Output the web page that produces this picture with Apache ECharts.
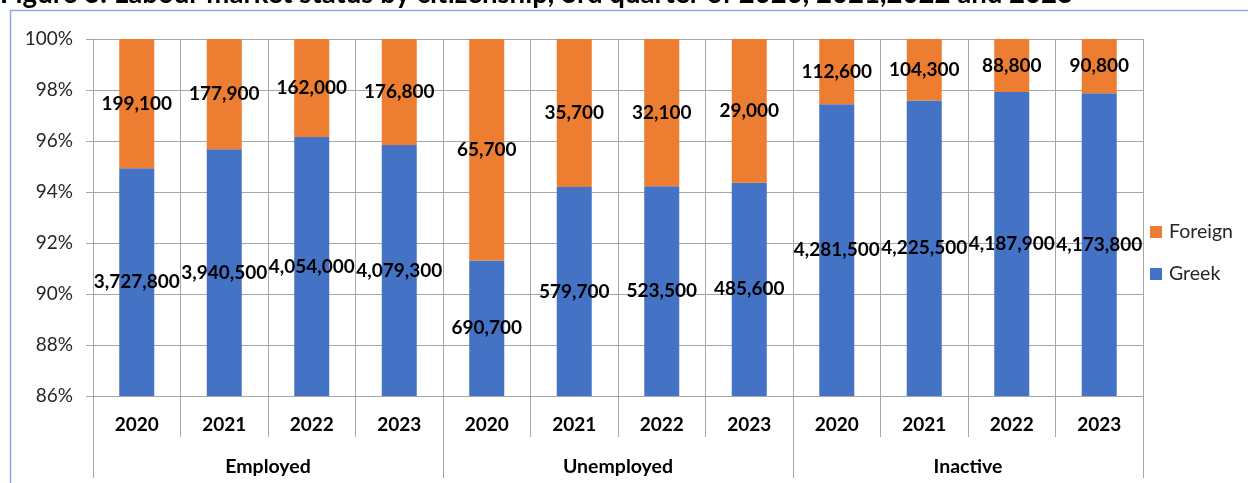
<!DOCTYPE html>
<html>
<head>
<meta charset="utf-8">
<script src="https://cdn.jsdelivr.net/npm/echarts@6/dist/echarts.min.js"></script>
<style>
  html, body { margin: 0; padding: 0; background: #fff; }
  #chart { width: 1248px; height: 483px; }
</style>
</head>
<body>
<div id="chart"></div>
<script>
// Labour market status by citizenship (Q3 figures, persons)
const groups = ['Employed', 'Unemployed', 'Inactive'];
const years = ['2020', '2021', '2022', '2023'];
const categories = ['2020', '2021', '2022', '2023', '2020', '2021', '2022', '2023', '2020', '2021', '2022', '2023'];
const greek = [3727800, 3940500, 4054000, 4079300, 690700, 579700, 523500, 485600, 4281500, 4225500, 4187900, 4173800];
const foreign = [199100, 177900, 162000, 176800, 65700, 35700, 32100, 29000, 112600, 104300, 88800, 90800];
const yTicks = { min: 86, max: 100, step: 2 };

const FONT = 'Lato';
const GRID_COLOR = '#A6A6A6';

// Each bar is the share of its column total, labelled with the head count
const share = (part, i) => part[i] / (greek[i] + foreign[i]) * 100;
const greekShare = greek.map((v, i) => ({ value: share(greek, i), raw: v }));
const foreignShare = foreign.map((v, i) => ({ value: share(foreign, i), raw: v }));
const fmt = (n) => n.toLocaleString('en-US');

const barLabel = {
  show: true,
  position: 'inside',
  color: '#000',
  fontFamily: FONT,
  fontWeight: 'bold',
  fontSize: 19,
  formatter: (p) => fmt(p.data.raw)
};

const chart = echarts.init(document.getElementById('chart'), null, { renderer: 'canvas' });
chart.setOption({
  animation: false,
  backgroundColor: '#fff',
  textStyle: { fontFamily: FONT },
  grid: { left: 93, right: 105, top: 39, bottom: 87, containLabel: false },
  legend: {
    orient: 'vertical',
    left: 1150,
    top: 222,
    padding: 0,
    data: ['Foreign', 'Greek'],
    icon: 'rect',
    itemWidth: 12,
    itemHeight: 12,
    itemGap: 22,
    textStyle: { fontFamily: FONT, fontSize: 19.5, color: '#262626', padding: [0, 0, 0, 2] }
  },
  xAxis: [
    {
      type: 'category',
      data: categories,
      position: 'bottom',
      axisLine: { show: true, lineStyle: { color: GRID_COLOR, width: 1 } },
      axisTick: { show: true, interval: 0, length: 41, lineStyle: { color: GRID_COLOR } },
      axisLabel: { interval: 0, margin: 19, fontFamily: FONT, fontWeight: 'bold', fontSize: 19, color: '#000' },
      splitLine: { show: true, interval: 0, lineStyle: { color: GRID_COLOR } }
    },
    {
      type: 'category',
      data: groups,
      position: 'bottom',
      axisLine: { show: false },
      axisTick: { show: true, interval: 0, length: 82, lineStyle: { color: GRID_COLOR } },
      axisLabel: { interval: 0, margin: 61, fontFamily: FONT, fontWeight: 'bold', fontSize: 19.5, color: '#000' },
      splitLine: { show: false }
    }
  ],
  yAxis: {
    type: 'value',
    min: yTicks.min,
    max: yTicks.max,
    interval: yTicks.step,
    axisLine: { show: true, lineStyle: { color: GRID_COLOR } },
    axisTick: { show: true, length: 7, lineStyle: { color: GRID_COLOR } },
    axisLabel: { formatter: '{value}%', margin: 20, fontFamily: FONT, fontSize: 19, color: '#262626' },
    splitLine: { show: true, lineStyle: { color: GRID_COLOR } }
  },
  series: [
    {
      name: 'Greek',
      type: 'bar',
      stack: 'total',
      xAxisIndex: 0,
      barWidth: 35,
      itemStyle: { color: '#4472C4' },
      label: barLabel,
      data: greekShare
    },
    {
      name: 'Foreign',
      type: 'bar',
      stack: 'total',
      xAxisIndex: 0,
      barWidth: 35,
      itemStyle: { color: '#ED7D31' },
      label: barLabel,
      data: foreignShare
    }
  ],
  graphic: [
    {
      type: 'text',
      left: 0,
      top: -20,
      style: {
        text: 'Figure 3: Labour market status by citizenship, 3rd quarter of 2020, 2021,2022 and 2023',
        fontFamily: FONT,
        fontWeight: 'bold',
        fontSize: 27.6,
        fill: '#000'
      }
    },
    {
      type: 'polyline',
      shape: { points: [[10.5, 483], [10.5, 10.5], [1248, 10.5]] },
      style: { stroke: '#8EA9DB', lineWidth: 1.5, fill: null }
    }
  ]
});
</script>
</body>
</html>
